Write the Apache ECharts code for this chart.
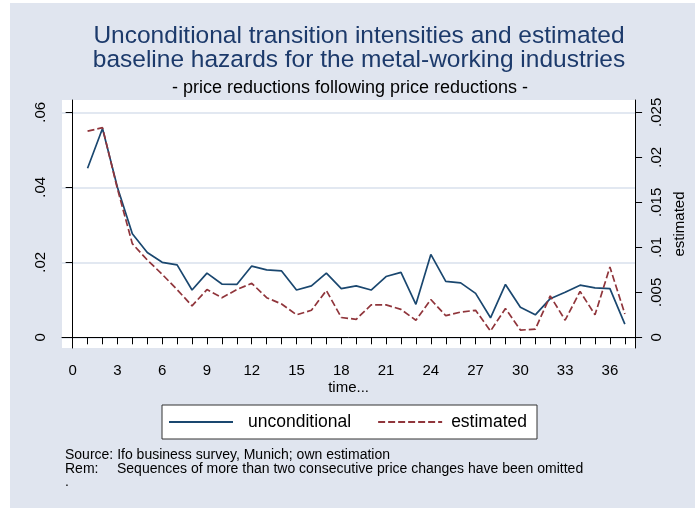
<!DOCTYPE html>
<html>
<head>
<meta charset="utf-8">
<script src="https://cdn.jsdelivr.net/npm/echarts@6/dist/echarts.min.js"></script>
<style>
  html, body { margin: 0; padding: 0; background: #fff; }
  #chart { width: 695px; height: 508px; }
</style>
</head>
<body>
<div id="chart"></div>
<script>
// time axis (months)
var time = [1, 2, 3, 4, 5, 6, 7, 8, 9, 10, 11, 12, 13, 14, 15, 16, 17, 18, 19,
            20, 21, 22, 23, 24, 25, 26, 27, 28, 29, 30, 31, 32, 33, 34, 35, 36, 37];

// left axis
var unconditional = [0.0451, 0.0557, 0.0400, 0.0276, 0.0226, 0.0200, 0.0193, 0.0126, 0.0171, 0.0142,
                     0.0141, 0.0190, 0.0180, 0.0177, 0.0126, 0.0137, 0.0171, 0.0130, 0.0137, 0.0126,
                     0.0162, 0.0173, 0.0088, 0.0221, 0.0149, 0.0145, 0.0117, 0.0052, 0.0141, 0.0080,
                     0.0060, 0.0103, 0.0120, 0.0139, 0.0132, 0.0130, 0.0035];

// right axis
var estimated = [0.0229, 0.0233, 0.0165, 0.0104, 0.0086, 0.0070, 0.0053, 0.0035, 0.0053, 0.0044,
                 0.0053, 0.0060, 0.0044, 0.0037, 0.0025, 0.0030, 0.0052, 0.0022, 0.0020, 0.0036,
                 0.0036, 0.0031, 0.0019, 0.0042, 0.0024, 0.0028, 0.0030, 0.0007, 0.0032, 0.0008,
                 0.0009, 0.0046, 0.0019, 0.0051, 0.0025, 0.0078, 0.0026];

var xTicks = [0, 1, 2, 3, 4, 5, 6, 7, 8, 9, 10, 11, 12, 13, 14, 15, 16, 17, 18,
              19, 20, 21, 22, 23, 24, 25, 26, 27, 28, 29, 30, 31, 32, 33, 34, 35, 36, 37];
var xLabels = [0, 3, 6, 9, 12, 15, 18, 21, 24, 27, 30, 33, 36];
var leftTicks = [0, 0.02, 0.04, 0.06];
var rightTicks = [0, 0.005, 0.01, 0.015, 0.02, 0.025];

var FONT = 'Liberation Sans, Arial, sans-serif';
var BLUE = '#1a476f';
var RED = '#90353b';
var BG = '#e0e5ef';

function pairs(xs, ys) {
    var out = [];
    for (var i = 0; i < xs.length; i++) {
        out.push([xs[i], ys[i]]);
    }
    return out;
}

// stata style labels: .02 instead of 0.02
function stataNum(v) {
    if (v === 0) return '0';
    return String(+v.toFixed(4)).replace(/^0\./, '.');
}

var axisLine = { show: true, lineStyle: { color: '#000', width: 1 } };

var option = {
    backgroundColor: '#fff',
    animation: false,
    graphic: [
        { type: 'rect', z: -10, silent: true, shape: { x: 10, y: 3, width: 685, height: 505 }, style: { fill: BG } },
        { type: 'text', x: 359, y: 36, style: { text: 'Unconditional transition intensities and estimated', font: '24.5px ' + FONT, fill: '#1c3a6b', textAlign: 'center', textVerticalAlign: 'middle' } },
        { type: 'text', x: 359, y: 60, style: { text: 'baseline hazards for the metal-working industries', font: '24.5px ' + FONT, fill: '#1c3a6b', textAlign: 'center', textVerticalAlign: 'middle' } },
        { type: 'text', x: 350, y: 88, style: { text: '- price reductions following price reductions -', font: '18px ' + FONT, fill: '#000', textAlign: 'center', textVerticalAlign: 'middle' } },
        { type: 'text', x: 65, y: 455, style: { text: 'Source: Ifo business survey, Munich; own estimation', font: '14px ' + FONT, fill: '#000', textVerticalAlign: 'middle' } },
        { type: 'text', x: 65, y: 469, style: { text: 'Rem:', font: '14px ' + FONT, fill: '#000', textVerticalAlign: 'middle' } },
        { type: 'text', x: 117, y: 469, style: { text: 'Sequences of more than two consecutive price changes have been omitted', font: '14px ' + FONT, fill: '#000', textVerticalAlign: 'middle' } },
        { type: 'text', x: 65, y: 482, style: { text: '.', font: '14px ' + FONT, fill: '#000', textVerticalAlign: 'middle' } }
    ],
    grid: {
        left: 62, top: 100, width: 576, height: 248,
        show: true, backgroundColor: '#fff', borderWidth: 0
    },
    legend: {
        left: 162, top: 405,
        padding: [8, 10, 8, 6],
        itemGap: 26,
        itemWidth: 64,
        itemHeight: 14,
        backgroundColor: '#fff',
        borderColor: '#333',
        borderWidth: 1,
        borderRadius: 0,
        itemStyle: { color: 'rgba(0,0,0,0)', borderWidth: 0, opacity: 0 },
        textStyle: { fontFamily: FONT, fontSize: 17.5, color: '#000' },
        data: [
            { name: 'unconditional', textStyle: { padding: [0, 0, 0, 10] } },
            { name: 'estimated', textStyle: { padding: [0, 0, 0, 4] } }
        ]
    },
    xAxis: {
        type: 'value',
        min: -0.713, max: 37.687,
        name: 'time...',
        nameLocation: 'middle',
        nameGap: 32,
        nameTextStyle: { fontFamily: FONT, fontSize: 15, color: '#000' },
        axisLine: axisLine,
        axisTick: { show: true, length: 7, lineStyle: { color: '#000', width: 1 }, customValues: xTicks },
        axisLabel: { customValues: xLabels, margin: 15, fontFamily: FONT, fontSize: 15, color: '#000' },
        splitLine: { show: false }
    },
    yAxis: [
        {
            type: 'value',
            position: 'left',
            min: -0.002853, max: 0.06328,
            axisLine: axisLine,
            axisTick: { show: true, length: 7, lineStyle: { color: '#000', width: 1 }, customValues: leftTicks },
            axisLabel: {
                customValues: leftTicks, rotate: 90, margin: 14,
                fontFamily: FONT, fontSize: 15, color: '#000',
                formatter: stataNum
            },
            splitLine: { show: true, lineStyle: { color: '#d9e0ec', width: 1.5 } }
        },
        {
            type: 'value',
            position: 'right',
            min: -0.002853 / 2.4, max: 0.06328 / 2.4,
            name: 'estimated',
            nameLocation: 'middle',
            nameGap: 31,
            nameTextStyle: { fontFamily: FONT, fontSize: 15, color: '#000' },
            axisLine: axisLine,
            axisTick: { show: true, length: 7, lineStyle: { color: '#000', width: 1 }, customValues: rightTicks },
            axisLabel: {
                customValues: rightTicks, rotate: 90, margin: 14,
                fontFamily: FONT, fontSize: 15, color: '#000',
                formatter: stataNum
            },
            splitLine: { show: false }
        }
    ],
    series: [
        {
            name: 'unconditional',
            type: 'line',
            yAxisIndex: 0,
            data: pairs(time, unconditional),
            symbol: 'none',
            z: 3,
            lineStyle: { color: BLUE, width: 1.7 },
            itemStyle: { color: BLUE }
        },
        {
            name: 'estimated',
            type: 'line',
            yAxisIndex: 1,
            data: pairs(time, estimated),
            symbol: 'none',
            z: 4,
            lineStyle: { color: RED, width: 1.7, type: [7, 3] },
            itemStyle: { color: RED }
        }
    ]
};

var myChart = echarts.init(document.getElementById('chart'), null, { renderer: 'canvas' });
myChart.setOption(option);
</script>
</body>
</html>
